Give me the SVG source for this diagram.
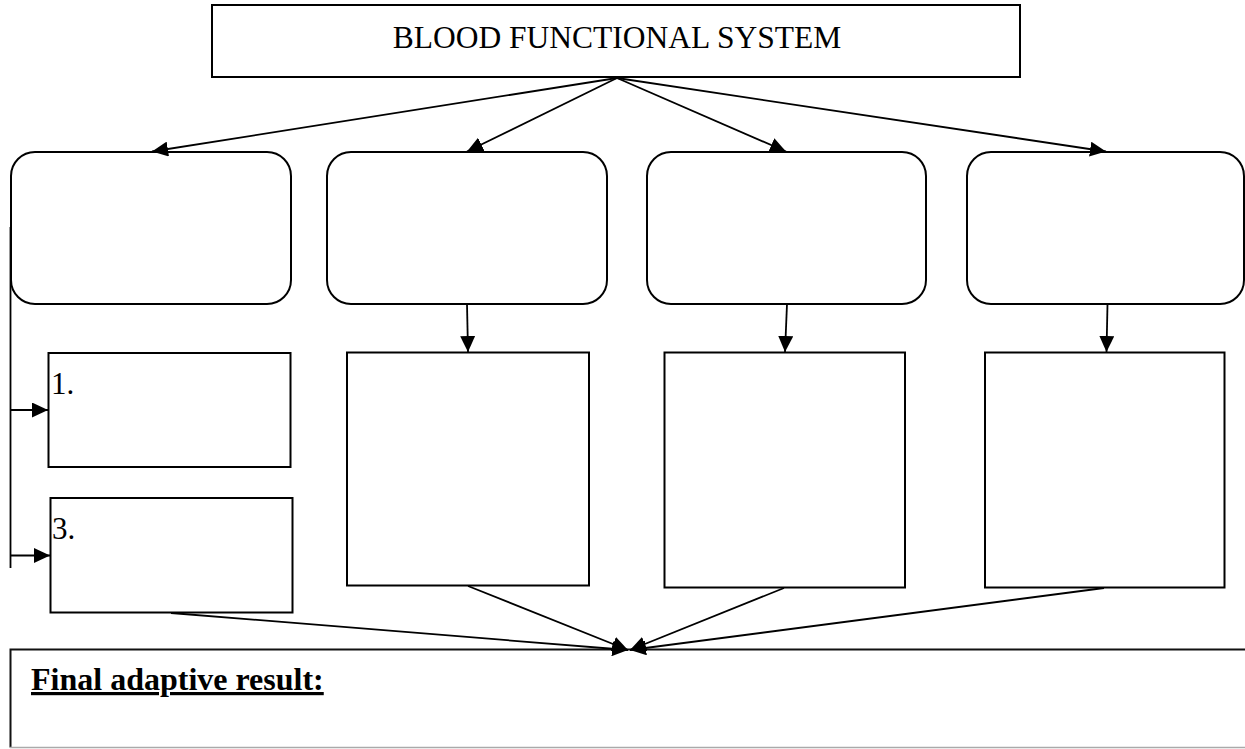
<svg xmlns="http://www.w3.org/2000/svg" width="1245" height="749" viewBox="0 0 1245 749">
  <style>
    .box { fill: #fff; stroke: #000; stroke-width: 2; }
    .conn { fill: none; stroke: #000; stroke-width: 1.8; }
    .arr { marker-end: url(#head); }
    .label { font-family: "Liberation Serif", "Times New Roman", serif; fill: #000; }
  </style>
  <defs>
    <marker id="head" markerUnits="userSpaceOnUse" markerWidth="16" markerHeight="15" refX="16" refY="7.5" orient="auto">
      <path d="M0,0 L16,7.5 L0,15 z" fill="#000"/>
    </marker>
  </defs>

  <rect width="1245" height="749" fill="#fff"/>

  <!-- title -->
  <g id="title">
    <rect class="box" x="212" y="5" width="808" height="72"/>
    <text class="label" x="617" y="48" font-size="31.5" text-anchor="middle">BLOOD FUNCTIONAL SYSTEM</text>
  </g>

  <!-- upper rounded blocks -->
  <g id="block1"><rect class="box" x="11" y="152" width="280" height="152" rx="24"/></g>
  <g id="block2"><rect class="box" x="327" y="152" width="280" height="152" rx="24"/></g>
  <g id="block3"><rect class="box" x="647" y="152" width="279" height="152" rx="24"/></g>
  <g id="block4"><rect class="box" x="967" y="152" width="277" height="152" rx="24"/></g>

  <!-- numbered items on the left -->
  <g id="item1">
    <rect class="box" x="48.5" y="353" width="242" height="114"/>
    <text class="label" x="51" y="394" font-size="31">1.</text>
  </g>
  <g id="item3">
    <rect class="box" x="50.5" y="498" width="242" height="114.5"/>
    <text class="label" x="52" y="539" font-size="31">3.</text>
  </g>

  <!-- tall boxes -->
  <g id="detail2"><rect class="box" x="347" y="352.5" width="242" height="233"/></g>
  <g id="detail3"><rect class="box" x="664.5" y="352.5" width="240.5" height="235"/></g>
  <g id="detail4"><rect class="box" x="985" y="352.5" width="239.5" height="235"/></g>

  <!-- result -->
  <g id="result">
    <path d="M1250,649.5 H10.5 V747.5" fill="none" stroke="#111" stroke-width="2"/>
    <line x1="10" y1="747.5" x2="1245" y2="747.5" stroke="#aaa" stroke-width="1.5"/>
    <text class="label" x="31" y="690" font-size="32" font-weight="bold" text-decoration="underline">Final adaptive result:</text>
  </g>

  <!-- connectors -->
  <g id="connectors">
    <line class="conn arr" x1="617" y1="78" x2="152" y2="151.5"/>
    <line class="conn arr" x1="617" y1="78" x2="467" y2="151.5"/>
    <line class="conn arr" x1="617" y1="78" x2="786" y2="151.5"/>
    <line class="conn arr" x1="617" y1="78" x2="1106" y2="151.5"/>

    <line class="conn arr" x1="467" y1="304" x2="468" y2="352"/>
    <line class="conn arr" x1="787" y1="304" x2="785" y2="352"/>
    <line class="conn arr" x1="1107.5" y1="304" x2="1106.5" y2="352"/>

    <line class="conn" x1="10.5" y1="227" x2="10.5" y2="568"/>
    <line class="conn arr" x1="10.5" y1="410" x2="48" y2="410"/>
    <line class="conn arr" x1="10.5" y1="555.5" x2="50" y2="555.5"/>

    <line class="conn arr" x1="171" y1="613" x2="628" y2="650"/>
    <line class="conn arr" x1="468" y1="586" x2="628" y2="650"/>
    <line class="conn arr" x1="784" y1="588" x2="630" y2="650"/>
    <line class="conn arr" x1="1104" y1="588" x2="630" y2="650"/>
  </g>
</svg>
